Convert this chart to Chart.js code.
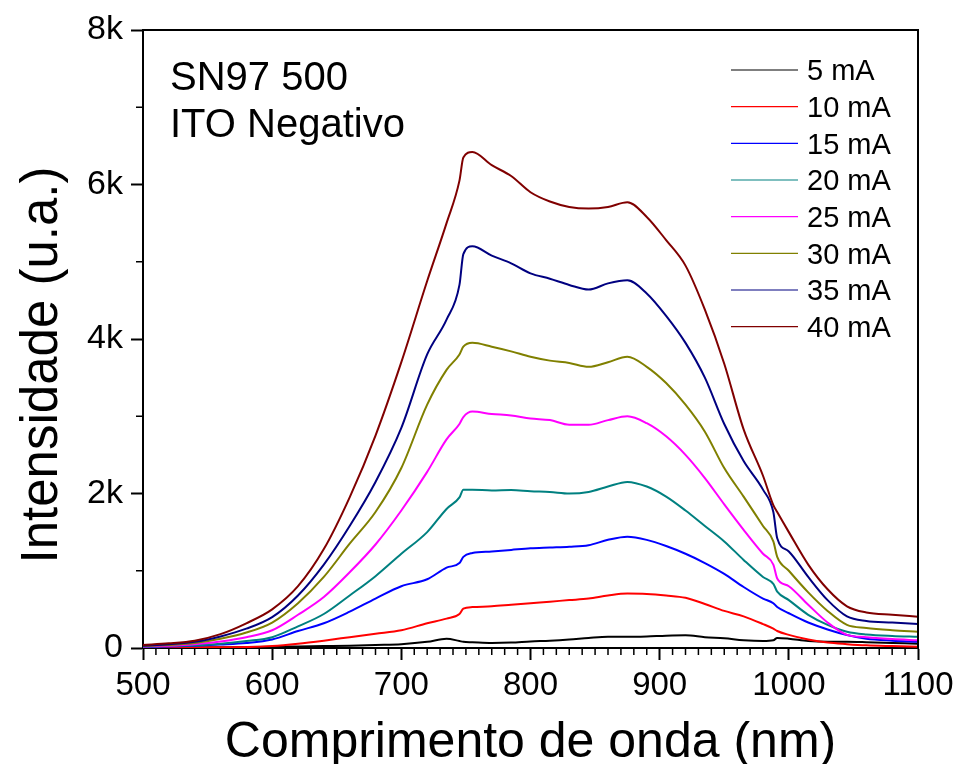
<!DOCTYPE html>
<html>
<head>
<meta charset="utf-8">
<title>SN97 500 - ITO Negativo</title>
<script src="https://cdn.jsdelivr.net/npm/chart.js@4.4.0/dist/chart.umd.min.js"></script>
<style>
  html, body { margin: 0; padding: 0; background: #fff; }
  #wrap { width: 960px; height: 764px; }
</style>
</head>
<body>
<div id="wrap"><canvas id="chart" width="960" height="764"></canvas></div>
<script>
// comprimento de onda (nm)
const wavelengths = [500, 520, 540, 560, 580, 600, 620, 640, 660, 680, 700, 720, 735, 745, 748, 755,
  770, 785, 800, 815, 830, 845, 860, 875, 890, 905, 920, 935, 950, 965, 980, 988, 991, 1000,
  1015, 1030, 1045, 1060, 1080, 1100];

// intensidade (u.a.), uma série por corrente
const int5mA = [5, 5, 8, 10, 12, 15, 20, 25, 30, 40, 50, 80, 120, 90, 80, 75,
  65, 70, 85, 95, 110, 130, 145, 145, 150, 160, 165, 140, 125, 100, 90, 100, 130, 120,
  90, 80, 80, 75, 65, 55];
const int10mA = [5, 5, 8, 10, 12, 25, 55, 95, 140, 185, 230, 320, 380, 440, 510, 530,
  540, 560, 580, 600, 620, 640, 680, 705, 700, 680, 650, 570, 480, 410, 310, 250, 220, 170,
  110, 70, 50, 35, 25, 17];
const int15mA = [10, 20, 30, 45, 65, 110, 220, 320, 470, 640, 800, 890, 1040, 1100, 1180, 1230,
  1250, 1270, 1290, 1300, 1310, 1330, 1400, 1440, 1400, 1320, 1220, 1100, 960, 790, 640, 580, 530, 450,
  330, 240, 168, 120, 95, 80];
const int20mA = [15, 25, 35, 55, 90, 140, 280, 440, 680, 930, 1220, 1500, 1800, 1950, 2050, 2050,
  2040, 2045, 2030, 2020, 2000, 2020, 2090, 2150, 2090, 1960, 1780, 1580, 1380, 1140, 920, 830, 730, 620,
  430, 300, 211, 175, 155, 145];
const int25mA = [20, 30, 50, 85, 140, 230, 430, 660, 980, 1340, 1780, 2280, 2700, 2900, 2990, 3060,
  3030, 3010, 2970, 2950, 2890, 2890, 2950, 3000, 2910, 2740, 2500, 2200, 1860, 1530, 1220, 1080, 900, 800,
  560, 330, 170, 140, 115, 100];
const int30mA = [25, 40, 65, 120, 200, 330, 580, 920, 1350, 1760, 2330, 3150, 3600, 3800, 3900, 3950,
  3900, 3840, 3770, 3720, 3690, 3640, 3700, 3770, 3640, 3430, 3150, 2800, 2330, 1960, 1580, 1380, 1180, 1000,
  720, 480, 300, 260, 230, 210];
const int35mA = [30, 50, 80, 150, 250, 400, 680, 1080, 1580, 2150, 2850, 3800, 4250, 4700, 5100, 5200,
  5080, 4980, 4850, 4780, 4700, 4640, 4720, 4760, 4590, 4300, 3950, 3500, 2900, 2420, 2050, 1760, 1420, 1250,
  920, 620, 410, 350, 330, 310];
const int40mA = [40, 60, 95, 180, 320, 500, 800, 1280, 1950, 2750, 3700, 4750, 5500, 6050, 6350, 6420,
  6250, 6110, 5900, 5780, 5710, 5690, 5710, 5770, 5580, 5280, 4950, 4380, 3680, 2830, 2230, 1850, 1760, 1500,
  1080, 760, 540, 460, 430, 405];

const seriesLabels = ['5 mA', '10 mA', '15 mA', '20 mA', '25 mA', '30 mA', '35 mA', '40 mA'];
const seriesValues = [int5mA, int10mA, int15mA, int20mA, int25mA, int30mA, int35mA, int40mA];
const seriesColors = ['#000000', '#ff0000', '#0000ff', '#008080', '#ff00ff', '#808000', '#000080', '#800000'];

const xTicks = [500, 600, 700, 800, 900, 1000, 1100];
const yTicks = [0, 2000, 4000, 6000, 8000];
const yTickLabels = ['0', '2k', '4k', '6k', '8k'];
const yMinorTicks = [1000, 3000, 5000, 7000];
const annotation = ['SN97 500', 'ITO Negativo'];
const yTitle = 'Intensidade (u.a.)';

const FONT = '"Liberation Sans", Arial, Helvetica, sans-serif';

// ticks menores do eixo x, de 10 em 10 nm
const xMinorTicks = [];
for (let v = 510; v < 1100; v += 10) {
  if (v % 100 !== 0) xMinorTicks.push(v);
}

const datasets = seriesLabels.map((label, i) => ({
  label: label,
  data: wavelengths.map((w, j) => ({ x: w, y: seriesValues[i][j] })),
  borderColor: seriesColors[i],
  backgroundColor: seriesColors[i],
  borderWidth: 2,
  pointRadius: 0,
  fill: false,
  cubicInterpolationMode: 'monotone',
  order: seriesLabels.length - 1 - i // 40 mA por cima, como no original
}));

// moldura de cima/direita, ticks menores, título do eixo y, texto e legenda
const extrasPlugin = {
  id: 'extras',
  afterDraw(chart) {
    const { ctx, chartArea: a, scales: { x, y } } = chart;
    ctx.save();
    ctx.strokeStyle = '#000';
    ctx.lineWidth = 2;
    ctx.beginPath();
    ctx.moveTo(a.left, a.top);
    ctx.lineTo(a.right, a.top);
    ctx.lineTo(a.right, a.bottom);
    ctx.stroke();

    ctx.lineWidth = 1.5;
    ctx.beginPath();
    xMinorTicks.forEach(v => {
      const px = x.getPixelForValue(v);
      ctx.moveTo(px, a.bottom);
      ctx.lineTo(px, a.bottom + 7);
    });
    yMinorTicks.forEach(v => {
      const py = y.getPixelForValue(v);
      ctx.moveTo(a.left, py);
      ctx.lineTo(a.left - 7, py);
    });
    ctx.stroke();

    ctx.fillStyle = '#000';

    // título do eixo y (no original fica um pouco abaixo do centro)
    ctx.save();
    ctx.translate(43, (a.top + a.bottom) / 2 + 26);
    ctx.rotate(-Math.PI / 2);
    ctx.textAlign = 'center';
    ctx.textBaseline = 'middle';
    ctx.font = '51px ' + FONT;
    ctx.fillText(yTitle, 0, 0);
    ctx.restore();

    ctx.textAlign = 'left';
    ctx.textBaseline = 'alphabetic';
    ctx.font = '40px ' + FONT;
    annotation.forEach((t, i) => ctx.fillText(t, a.left + 27, a.top + 60 + i * 47));

    ctx.font = '29px ' + FONT;
    chart.data.datasets.forEach((ds, i) => {
      const cy = a.top + 40 + i * 36.67;
      ctx.strokeStyle = ds.borderColor;
      ctx.lineWidth = 1.2;
      ctx.beginPath();
      ctx.moveTo(a.right - 187, cy);
      ctx.lineTo(a.right - 120, cy);
      ctx.stroke();
      ctx.fillText(ds.label, a.right - 111, cy + 10.4);
    });
    ctx.restore();
  }
};

new Chart(document.getElementById('chart'), {
  type: 'line',
  data: { datasets: datasets },
  plugins: [extrasPlugin],
  options: {
    responsive: false,
    animation: false,
    devicePixelRatio: 1,
    layout: { padding: { top: 30, right: 42, left: 0, bottom: 0 } },
    plugins: {
      legend: { display: false },
      tooltip: { enabled: false }
    },
    scales: {
      x: {
        type: 'linear',
        min: 500,
        max: 1100,
        afterBuildTicks: s => { s.ticks = xTicks.map(v => ({ value: v })); },
        afterFit: s => { s.height = 116; },
        grid: { drawOnChartArea: false, drawTicks: true, tickLength: 12, tickWidth: 2, tickColor: '#000' },
        border: { display: true, color: '#000', width: 2 },
        ticks: {
          color: '#000',
          font: { family: FONT, size: 33 },
          padding: 6,
          maxRotation: 0,
          autoSkip: false,
          callback: v => String(v)
        },
        title: {
          display: true,
          text: 'Comprimento de onda (nm)',
          color: '#000',
          font: { family: FONT, size: 50, lineHeight: 0.85 },
          padding: 0
        }
      },
      y: {
        type: 'linear',
        min: 0,
        max: 8000,
        afterBuildTicks: s => { s.ticks = yTicks.map(v => ({ value: v })); },
        afterFit: s => { s.width = 143; },
        grid: { drawOnChartArea: false, drawTicks: true, tickLength: 12, tickWidth: 2, tickColor: '#000' },
        border: { display: true, color: '#000', width: 2 },
        ticks: {
          color: '#000',
          font: { family: FONT, size: 34 },
          padding: 8,
          autoSkip: false,
          callback: v => yTickLabels[yTicks.indexOf(v)]
        },
        title: { display: false }
      }
    }
  }
});
</script>
</body>
</html>
